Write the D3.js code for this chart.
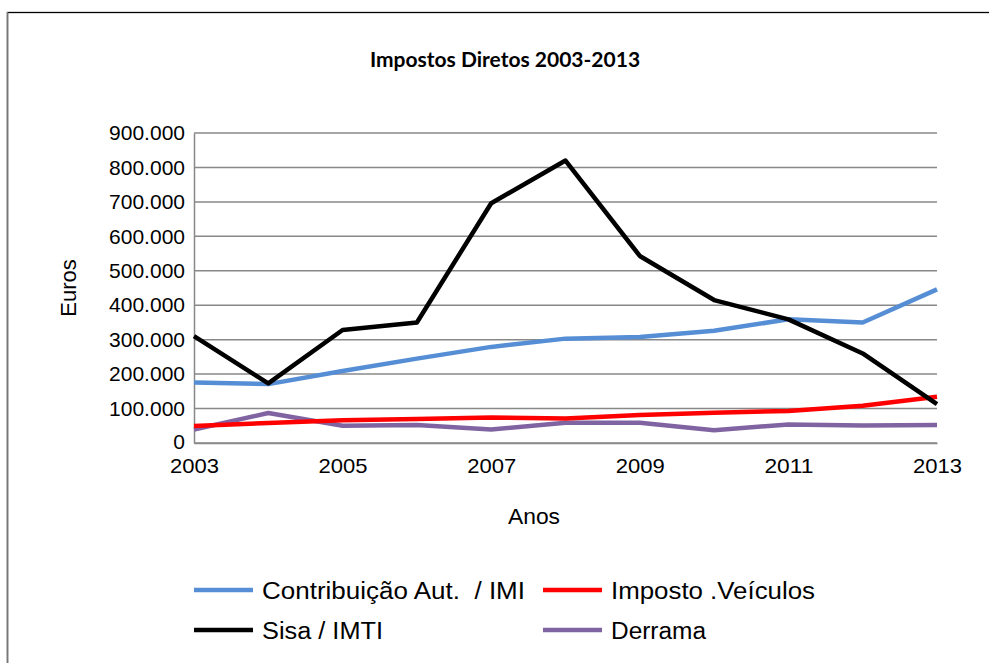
<!DOCTYPE html>
<html><head><meta charset="utf-8">
<script src="https://cdn.jsdelivr.net/npm/d3@7"></script>
<style>body{margin:0;background:#fff}svg{display:block}text{font-family:"Liberation Sans",Arial,sans-serif}</style>
</head><body><svg id="c" width="989" height="663"></svg>
<script>
const years = [2003,2004,2005,2006,2007,2008,2009,2010,2011,2012,2013];
const xTickLabels = [2003,2005,2007,2009,2011,2013];
const yTicks = [0,100000,200000,300000,400000,500000,600000,700000,800000,900000];
const seriesNames = ["Contribuição Aut.  / IMI","Imposto .Veículos","Sisa / IMTI","Derrama"];
const contribuicao = [176000,171000,209000,245000,279000,303000,308000,326000,359000,350000,446000];
const impostoVeiculos = [49000,58000,66000,70000,74000,71000,81000,88000,93000,108000,134000];
const sisa = [310000,173000,328000,350000,696000,820000,543000,415000,359000,260000,113000];
const derrama = [39000,87000,50000,52000,39000,59000,59000,37000,54000,51000,52000];
const colors = ["#558ED5","#FF0000","#000000","#8064A2"];

const svg = d3.select("#c");
svg.append("rect").attr("x",7.5).attr("y",12.5).attr("width",1000).attr("height",700)
  .attr("fill","#fff").attr("stroke","#000").attr("stroke-width",1.3);
svg.append("line").attr("x1",7.5).attr("x2",7.5).attr("y1",12).attr("y2",663).attr("stroke","#777").attr("stroke-width",1.5);

const x = d3.scaleLinear().domain([2003,2013]).range([194,937]);
const y = d3.scaleLinear().domain([0,900000]).range([443,133]);
const fmt = v => d3.format(",")(v).replace(/,/g,".");

svg.append("text").attr("x",505).attr("y",67).attr("text-anchor","middle")
  .style("font-family","Lato, 'Open Sans', sans-serif").style("font-weight","bold").style("font-size","21px")
  .text("Impostos Diretos 2003-2013");

// gridlines
svg.append("g").selectAll("line").data(yTicks).join("line")
  .attr("x1",x(2003)).attr("x2",x(2013)).attr("y1",d=>y(d)).attr("y2",d=>y(d))
  .attr("stroke","#888").attr("stroke-width",1.5);

const yAxis = svg.append("g").attr("transform",`translate(${x(2003)},0)`)
  .call(d3.axisLeft(y).tickValues(yTicks).tickFormat(fmt).tickSize(0).tickPadding(9));
yAxis.select(".domain").attr("stroke","#888").attr("stroke-width",1.5);
yAxis.selectAll("text").style("font-size","21px").attr("fill","#000").attr("font-family",null);
yAxis.selectAll(".tick").filter(d=>d===0).select("text").attr("dy","0.25em");

const xAxis = svg.append("g").attr("transform",`translate(0,${y(0)})`)
  .call(d3.axisBottom(x).tickValues(xTickLabels).tickFormat(d3.format("d")).tickSize(0).tickPadding(15));
xAxis.select(".domain").attr("stroke","#888").attr("stroke-width",1.5);
xAxis.selectAll("text").style("font-size","21px").attr("fill","#000").attr("font-family",null)
  .attr("textLength",49).attr("lengthAdjust","spacingAndGlyphs");

svg.append("text").attr("transform","translate(76,288) rotate(-90)").attr("text-anchor","middle")
  .style("font-size","22px").text("Euros");
svg.append("text").attr("x",534).attr("y",524).attr("text-anchor","middle")
  .style("font-size","22px").attr("textLength",52).attr("lengthAdjust","spacingAndGlyphs").text("Anos");

const data = [contribuicao, impostoVeiculos, sisa, derrama];
const line = d3.line().x((d,i)=>x(years[i])).y(d=>y(d));
const order = [3,1,0,2];
order.forEach(k=>{
  svg.append("path").datum(data[k]).attr("d",line).attr("fill","none")
    .attr("stroke",colors[k]).attr("stroke-width",4.5).attr("stroke-linejoin","round");
});

// legend
const legPos = [[194,590],[543,590],[194,630],[543,630]];
const legLen = [263,204,121,95];
seriesNames.forEach((n,k)=>{
  const [lx,ly] = legPos[k];
  svg.append("line").attr("x1",lx).attr("x2",lx+59).attr("y1",ly).attr("y2",ly)
    .attr("stroke",colors[k]).attr("stroke-width",4.5);
  svg.append("text").attr("x",lx+68).attr("y",ly+9).style("font-size","23px")
    .style("white-space","pre").attr("xml:space","preserve")
    .attr("textLength",legLen[k]).attr("lengthAdjust","spacingAndGlyphs").text(n);
});
</script></body></html>
